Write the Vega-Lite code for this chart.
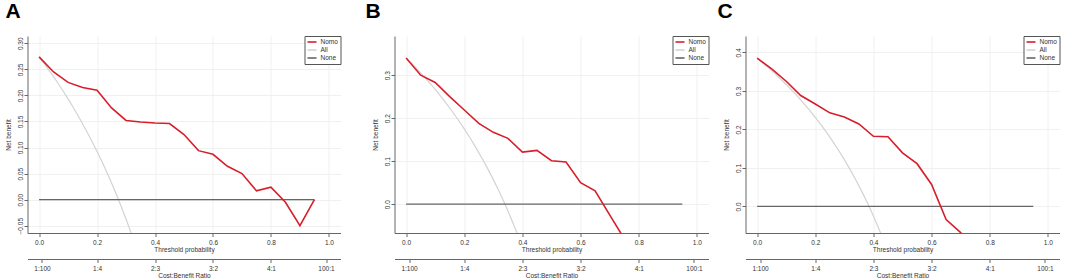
{
  "$schema": "https://vega.github.io/schema/vega-lite/v6.json",
  "padding": {"left": 4.5, "top": 0, "right": 0, "bottom": 0},
  "background": "white",
  "data": {"values": [
    {"p":"A","s":"Nomo","t":0,"nb":0.274},{"p":"A","s":"Nomo","t":0.05,"nb":0.245},{"p":"A","s":"Nomo","t":0.1,"nb":0.225},{"p":"A","s":"Nomo","t":0.15,"nb":0.215},{"p":"A","s":"Nomo","t":0.2,"nb":0.21},{"p":"A","s":"Nomo","t":0.25,"nb":0.176},{"p":"A","s":"Nomo","t":0.3,"nb":0.152},{"p":"A","s":"Nomo","t":0.35,"nb":0.149},{"p":"A","s":"Nomo","t":0.4,"nb":0.147},{"p":"A","s":"Nomo","t":0.45,"nb":0.146},{"p":"A","s":"Nomo","t":0.5,"nb":0.125},{"p":"A","s":"Nomo","t":0.55,"nb":0.094},{"p":"A","s":"Nomo","t":0.6,"nb":0.087},{"p":"A","s":"Nomo","t":0.65,"nb":0.064},{"p":"A","s":"Nomo","t":0.7,"nb":0.05},{"p":"A","s":"Nomo","t":0.75,"nb":0.017},{"p":"A","s":"Nomo","t":0.8,"nb":0.024},{"p":"A","s":"Nomo","t":0.85,"nb":-0.005},{"p":"A","s":"Nomo","t":0.9,"nb":-0.05},{"p":"A","s":"Nomo","t":0.95,"nb":0.0},
    {"p":"A","s":"All","t":0,"nb":0.274},{"p":"A","s":"All","t":0.02,"nb":0.2592},{"p":"A","s":"All","t":0.04,"nb":0.2438},{"p":"A","s":"All","t":0.06,"nb":0.2277},{"p":"A","s":"All","t":0.08,"nb":0.2109},{"p":"A","s":"All","t":0.1,"nb":0.1933},{"p":"A","s":"All","t":0.12,"nb":0.175},{"p":"A","s":"All","t":0.14,"nb":0.1558},{"p":"A","s":"All","t":0.16,"nb":0.1357},{"p":"A","s":"All","t":0.18,"nb":0.1146},{"p":"A","s":"All","t":0.2,"nb":0.0925},{"p":"A","s":"All","t":0.22,"nb":0.0692},{"p":"A","s":"All","t":0.24,"nb":0.0447},{"p":"A","s":"All","t":0.26,"nb":0.0189},{"p":"A","s":"All","t":0.28,"nb":-0.0083},{"p":"A","s":"All","t":0.3,"nb":-0.0371},{"p":"A","s":"All","t":0.32,"nb":-0.0676},{"p":"A","s":"All","t":0.34,"nb":-0.1},
    {"p":"A","s":"None","t":0,"nb":0},{"p":"A","s":"None","t":0.95,"nb":0},
    {"p":"B","s":"Nomo","t":0,"nb":0.34},{"p":"B","s":"Nomo","t":0.05,"nb":0.3},{"p":"B","s":"Nomo","t":0.1,"nb":0.283},{"p":"B","s":"Nomo","t":0.15,"nb":0.25},{"p":"B","s":"Nomo","t":0.2,"nb":0.219},{"p":"B","s":"Nomo","t":0.25,"nb":0.188},{"p":"B","s":"Nomo","t":0.3,"nb":0.167},{"p":"B","s":"Nomo","t":0.35,"nb":0.153},{"p":"B","s":"Nomo","t":0.4,"nb":0.121},{"p":"B","s":"Nomo","t":0.45,"nb":0.125},{"p":"B","s":"Nomo","t":0.5,"nb":0.101},{"p":"B","s":"Nomo","t":0.55,"nb":0.098},{"p":"B","s":"Nomo","t":0.6,"nb":0.05},{"p":"B","s":"Nomo","t":0.65,"nb":0.031},{"p":"B","s":"Nomo","t":0.7,"nb":-0.025},{"p":"B","s":"Nomo","t":0.75,"nb":-0.08},
    {"p":"B","s":"All","t":0,"nb":0.34},{"p":"B","s":"All","t":0.02,"nb":0.3265},{"p":"B","s":"All","t":0.04,"nb":0.3125},{"p":"B","s":"All","t":0.06,"nb":0.2979},{"p":"B","s":"All","t":0.08,"nb":0.2826},{"p":"B","s":"All","t":0.1,"nb":0.2667},{"p":"B","s":"All","t":0.12,"nb":0.25},{"p":"B","s":"All","t":0.14,"nb":0.2326},{"p":"B","s":"All","t":0.16,"nb":0.2143},{"p":"B","s":"All","t":0.18,"nb":0.1951},{"p":"B","s":"All","t":0.2,"nb":0.175},{"p":"B","s":"All","t":0.22,"nb":0.1538},{"p":"B","s":"All","t":0.24,"nb":0.1316},{"p":"B","s":"All","t":0.26,"nb":0.1081},{"p":"B","s":"All","t":0.28,"nb":0.0833},{"p":"B","s":"All","t":0.3,"nb":0.0571},{"p":"B","s":"All","t":0.32,"nb":0.0294},{"p":"B","s":"All","t":0.34,"nb":0.0},{"p":"B","s":"All","t":0.36,"nb":-0.0313},{"p":"B","s":"All","t":0.38,"nb":-0.0645},{"p":"B","s":"All","t":0.4,"nb":-0.1},
    {"p":"B","s":"None","t":0,"nb":0},{"p":"B","s":"None","t":0.95,"nb":0},
    {"p":"C","s":"Nomo","t":0,"nb":0.385},{"p":"C","s":"Nomo","t":0.05,"nb":0.357},{"p":"C","s":"Nomo","t":0.1,"nb":0.325},{"p":"C","s":"Nomo","t":0.15,"nb":0.288},{"p":"C","s":"Nomo","t":0.2,"nb":0.266},{"p":"C","s":"Nomo","t":0.25,"nb":0.243},{"p":"C","s":"Nomo","t":0.3,"nb":0.232},{"p":"C","s":"Nomo","t":0.35,"nb":0.214},{"p":"C","s":"Nomo","t":0.4,"nb":0.182},{"p":"C","s":"Nomo","t":0.45,"nb":0.181},{"p":"C","s":"Nomo","t":0.5,"nb":0.139},{"p":"C","s":"Nomo","t":0.55,"nb":0.111},{"p":"C","s":"Nomo","t":0.6,"nb":0.057},{"p":"C","s":"Nomo","t":0.65,"nb":-0.034},{"p":"C","s":"Nomo","t":0.7,"nb":-0.068},{"p":"C","s":"Nomo","t":0.75,"nb":-0.11},
    {"p":"C","s":"All","t":0,"nb":0.385},{"p":"C","s":"All","t":0.02,"nb":0.3724},{"p":"C","s":"All","t":0.04,"nb":0.3594},{"p":"C","s":"All","t":0.06,"nb":0.3457},{"p":"C","s":"All","t":0.08,"nb":0.3315},{"p":"C","s":"All","t":0.1,"nb":0.3167},{"p":"C","s":"All","t":0.12,"nb":0.3011},{"p":"C","s":"All","t":0.14,"nb":0.2849},{"p":"C","s":"All","t":0.16,"nb":0.2679},{"p":"C","s":"All","t":0.18,"nb":0.25},{"p":"C","s":"All","t":0.2,"nb":0.2313},{"p":"C","s":"All","t":0.22,"nb":0.2115},{"p":"C","s":"All","t":0.24,"nb":0.1908},{"p":"C","s":"All","t":0.26,"nb":0.1689},{"p":"C","s":"All","t":0.28,"nb":0.1458},{"p":"C","s":"All","t":0.3,"nb":0.1214},{"p":"C","s":"All","t":0.32,"nb":0.0956},{"p":"C","s":"All","t":0.34,"nb":0.0682},{"p":"C","s":"All","t":0.36,"nb":0.0391},{"p":"C","s":"All","t":0.38,"nb":0.0081},{"p":"C","s":"All","t":0.4,"nb":-0.025},{"p":"C","s":"All","t":0.42,"nb":-0.0603},{"p":"C","s":"All","t":0.44,"nb":-0.0982},
    {"p":"C","s":"None","t":0,"nb":0},{"p":"C","s":"None","t":0.95,"nb":0}
  ]},
  "spacing": 24,
  "resolve": {"scale": {"color": "independent"}, "legend": {"color": "independent"}},
  "hconcat": [
    {
      "width": 313, "height": 197,
      "title": {"text": "A", "dx": -22},
      "transform": [{"filter": "datum.p == 'A'"}],
      "encoding": {
        "y": {"field": "nb", "type": "quantitative", "scale": {"domain": [-0.064, 0.314], "nice": false, "zero": false},
              "axis": {"values": [-0.05, 0, 0.05, 0.1, 0.15, 0.2, 0.25, 0.3], "format": ".2f", "title": "Net benefit"}},
        "color": {"field": "s", "type": "nominal", "scale": {"domain": ["Nomo", "All", "None"], "range": ["#d81e2a", "#d3d3d3", "#666666"]}, "legend": {"title": null}}
      },
      "layer": [
        {"transform": [{"filter": "datum.s == 'All'"}], "mark": {"type": "line", "strokeWidth": 1.2, "clip": true},
         "encoding": {"x": {"field": "t", "type": "quantitative", "scale": {"domain": [-0.04, 1.04], "nice": false, "zero": false},
           "axis": {"values": [0, 0.2, 0.4, 0.6, 0.8, 1], "format": ".1f", "title": "Threshold probability", "grid": true}}}},
        {"transform": [{"filter": "datum.s == 'None'"}], "mark": {"type": "line", "strokeWidth": 1.2, "clip": true},
         "encoding": {"x": {"field": "t", "type": "quantitative", "scale": {"domain": [-0.04, 1.04], "nice": false, "zero": false},
           "axis": {"orient": "bottom", "offset": 26, "values": [0.01, 0.2, 0.4, 0.6, 0.8, 0.99], "labelExpr": "datum.value < 0.1 ? '1:100' : datum.value < 0.3 ? '1:4' : datum.value < 0.5 ? '2:3' : datum.value < 0.7 ? '3:2' : datum.value < 0.9 ? '4:1' : '100:1'", "title": "Cost:Benefit Ratio", "grid": false}}}},
        {"transform": [{"filter": "datum.s == 'Nomo'"}], "mark": {"type": "line", "strokeWidth": 1.6, "clip": true},
         "encoding": {"x": {"field": "t", "type": "quantitative", "scale": {"domain": [-0.04, 1.04], "nice": false, "zero": false}, "axis": null}}}
      ],
      "resolve": {"axis": {"x": "independent"}}
    },
    {
      "spacing": 8,
      "resolve": {"scale": {"color": "independent"}, "legend": {"color": "independent"}},
      "hconcat": [
        {
          "width": 314, "height": 197,
          "title": {"text": "B", "dx": -29},
          "transform": [{"filter": "datum.p == 'B'"}],
          "encoding": {
            "y": {"field": "nb", "type": "quantitative", "scale": {"domain": [-0.067, 0.391], "nice": false, "zero": false},
                  "axis": {"values": [0, 0.1, 0.2, 0.3], "format": ".1f", "title": "Net benefit"}},
            "color": {"field": "s", "type": "nominal", "scale": {"domain": ["Nomo", "All", "None"], "range": ["#d81e2a", "#d3d3d3", "#666666"]}, "legend": {"title": null}}
          },
          "layer": [
            {"transform": [{"filter": "datum.s == 'All'"}], "mark": {"type": "line", "strokeWidth": 1.2, "clip": true},
             "encoding": {"x": {"field": "t", "type": "quantitative", "scale": {"domain": [-0.04, 1.04], "nice": false, "zero": false},
               "axis": {"values": [0, 0.2, 0.4, 0.6, 0.8, 1], "format": ".1f", "title": "Threshold probability", "grid": true}}}},
            {"transform": [{"filter": "datum.s == 'None'"}], "mark": {"type": "line", "strokeWidth": 1.2, "clip": true},
             "encoding": {"x": {"field": "t", "type": "quantitative", "scale": {"domain": [-0.04, 1.04], "nice": false, "zero": false},
               "axis": {"orient": "bottom", "offset": 26, "values": [0.01, 0.2, 0.4, 0.6, 0.8, 0.99], "labelExpr": "datum.value < 0.1 ? '1:100' : datum.value < 0.3 ? '1:4' : datum.value < 0.5 ? '2:3' : datum.value < 0.7 ? '3:2' : datum.value < 0.9 ? '4:1' : '100:1'", "title": "Cost:Benefit Ratio", "grid": false}}}},
            {"transform": [{"filter": "datum.s == 'Nomo'"}], "mark": {"type": "line", "strokeWidth": 1.6, "clip": true},
             "encoding": {"x": {"field": "t", "type": "quantitative", "scale": {"domain": [-0.04, 1.04], "nice": false, "zero": false}, "axis": null}}}
          ],
          "resolve": {"axis": {"x": "independent"}}
        },
        {
          "width": 314, "height": 197,
          "title": {"text": "C", "dx": -28},
          "transform": [{"filter": "datum.p == 'C'"}],
          "encoding": {
            "y": {"field": "nb", "type": "quantitative", "scale": {"domain": [-0.069, 0.4425], "nice": false, "zero": false},
                  "axis": {"values": [0, 0.1, 0.2, 0.3, 0.4], "format": ".1f", "title": "Net benefit"}},
            "color": {"field": "s", "type": "nominal", "scale": {"domain": ["Nomo", "All", "None"], "range": ["#d81e2a", "#d3d3d3", "#666666"]}, "legend": {"title": null}}
          },
          "layer": [
            {"transform": [{"filter": "datum.s == 'All'"}], "mark": {"type": "line", "strokeWidth": 1.2, "clip": true},
             "encoding": {"x": {"field": "t", "type": "quantitative", "scale": {"domain": [-0.04, 1.04], "nice": false, "zero": false},
               "axis": {"values": [0, 0.2, 0.4, 0.6, 0.8, 1], "format": ".1f", "title": "Threshold probability", "grid": true}}}},
            {"transform": [{"filter": "datum.s == 'None'"}], "mark": {"type": "line", "strokeWidth": 1.2, "clip": true},
             "encoding": {"x": {"field": "t", "type": "quantitative", "scale": {"domain": [-0.04, 1.04], "nice": false, "zero": false},
               "axis": {"orient": "bottom", "offset": 26, "values": [0.01, 0.2, 0.4, 0.6, 0.8, 0.99], "labelExpr": "datum.value < 0.1 ? '1:100' : datum.value < 0.3 ? '1:4' : datum.value < 0.5 ? '2:3' : datum.value < 0.7 ? '3:2' : datum.value < 0.9 ? '4:1' : '100:1'", "title": "Cost:Benefit Ratio", "grid": false}}}},
            {"transform": [{"filter": "datum.s == 'Nomo'"}], "mark": {"type": "line", "strokeWidth": 1.6, "clip": true},
             "encoding": {"x": {"field": "t", "type": "quantitative", "scale": {"domain": [-0.04, 1.04], "nice": false, "zero": false}, "axis": null}}}
          ],
          "resolve": {"axis": {"x": "independent"}}
        }
      ]
    }
  ],
  "config": {
    "view": {"stroke": null},
    "font": "Liberation Sans",
    "title": {"anchor": "start", "frame": "group", "fontSize": 21, "fontWeight": "bold", "color": "black", "offset": 14, "font": "Liberation Sans"},
    "axis": {"labelFontSize": 6.5, "titleFontSize": 6.5, "titleFontWeight": "normal", "labelColor": "#333333", "titleColor": "#333333",
             "domainColor": "#666666", "tickColor": "#666666", "tickSize": 3.5, "labelPadding": 2.5, "titlePadding": 1,
             "gridColor": "#ececec", "gridWidth": 0.8, "labelFlush": false, "labelOverlap": false},
    "axisY": {"labelAngle": -90, "labelAlign": "center", "labelBaseline": "alphabetic", "labelPadding": 1.5, "grid": true, "titlePadding": 6},
    "legend": {"orient": "top-right", "offset": 0, "padding": 2, "strokeColor": "#555555", "fillColor": "white", "labelFontSize": 6.5,
               "symbolType": "M-1.5,0L1.5,0", "symbolSize": 36, "symbolStrokeWidth": 1.6, "symbolOffset": 1.5, "rowPadding": 0, "labelOffset": 4.5, "labelColor": "#333333"}
  }
}
